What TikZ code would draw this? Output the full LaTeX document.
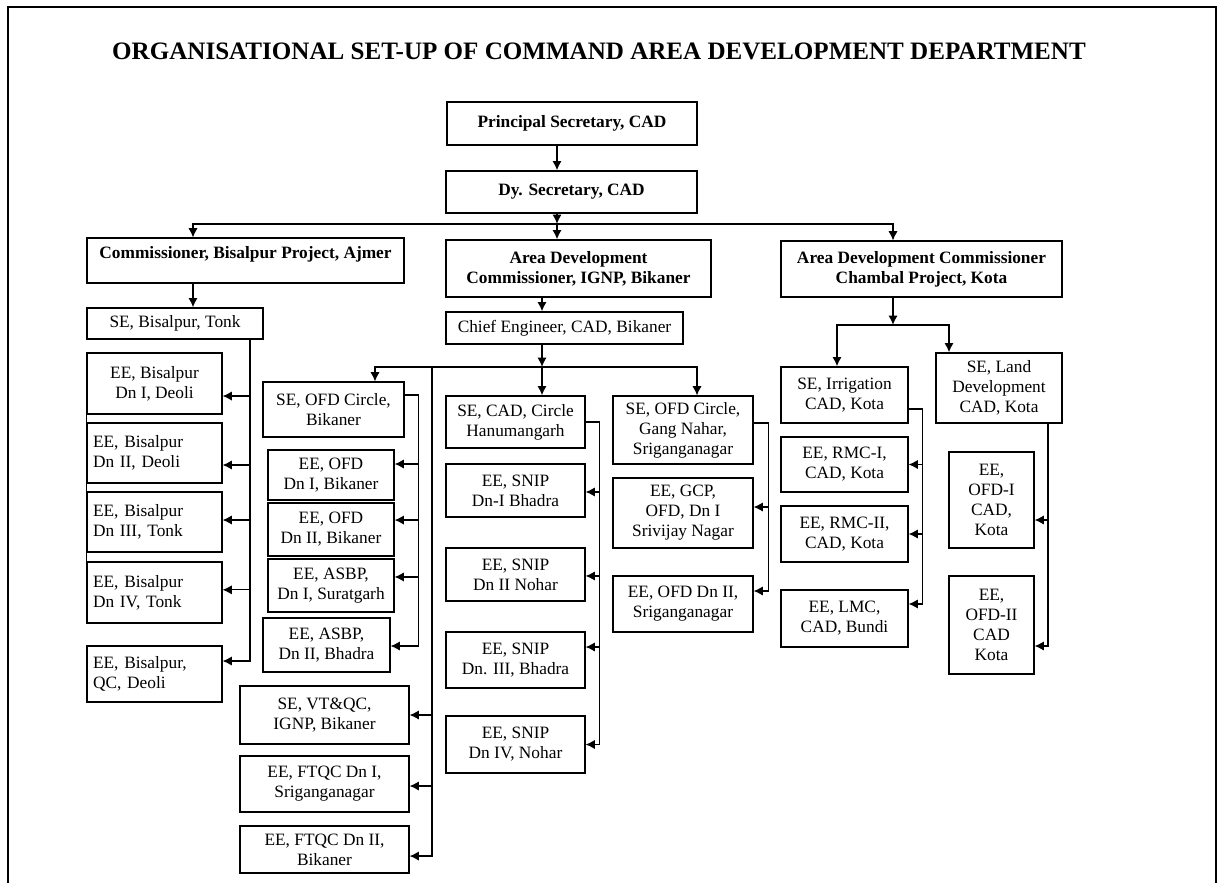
\documentclass[tikz,border=0pt]{standalone}
\usepackage{fontspec}
\setmainfont{Liberation Serif}
\usetikzlibrary{arrows.meta}

\begin{document}
\begin{tikzpicture}[x=0.75pt, y=-0.75pt, >={Latex[length=7pt,width=7pt]},
  box/.style={draw, line width=0.9pt, align=center, inner sep=2pt, font=\fontsize{13}{15}\selectfont},
  head/.style={box, font=\fontsize{13}{15}\selectfont\bfseries},
  lbox/.style={box, align=left, inner xsep=4.5pt, text width=92.25pt},
  link/.style={line width=0.9pt},
  mainline/.style={line width=2.2pt}]
  \useasboundingbox (0,0) rectangle (1219,883);
  \draw [line width=2.2pt] (8,883) -- (8,7) -- (1216,7) -- (1216,883);
  \node [font=\fontsize{18.8}{22}\selectfont\bfseries] (title) at (599,51) {ORGANISATIONAL SET-UP OF COMMAND AREA DEVELOPMENT DEPARTMENT};

  % top of the department
  \node [head, minimum width=187.5pt, minimum height=32.25pt] (psec) at (572,123.5) {Principal Secretary, CAD};
  \node [head, minimum width=188.25pt, minimum height=31.5pt] (dysec) at (571.5,192) {Dy. Secretary, CAD};
  \node [head, minimum width=237.75pt, minimum height=33.75pt, inner ysep=0pt, text height=15pt, text depth=18.75pt] (cbis) at (245.5,260.5) {Commissioner, Bisalpur Project, Ajmer};
  \node [head, minimum width=198.75pt, minimum height=42.75pt] (adcign) at (578.5,268.5) {Area Development\\Commissioner, IGNP, Bikaner};
  \node [head, minimum width=210.75pt, minimum height=42pt] (adckota) at (921.5,269) {Area Development Commissioner\\Chambal Project, Kota};

  % Bisalpur
  \node [box, minimum width=132pt, minimum height=23.25pt] (sebis) at (175,323.5) {SE, Bisalpur, Tonk};
  \node [box, minimum width=101.25pt, minimum height=45.75pt] (ee1) at (154.5,383.5) {EE, Bisalpur\\Dn I, Deoli};
  \node [lbox, minimum height=45pt] (ee2) at (154.5,453) {EE, Bisalpur\\Dn II, Deoli};
  \node [lbox, minimum height=45pt] (ee3) at (154.5,522) {EE, Bisalpur\\Dn III, Tonk};
  \node [lbox, minimum height=45.75pt] (ee4) at (154.5,592.5) {EE, Bisalpur\\Dn IV, Tonk};
  \node [lbox, minimum height=42pt] (eeqc) at (154.5,674) {EE, Bisalpur,\\QC, Deoli};

  % IGNP
  \node [box, minimum width=177.75pt, minimum height=24pt] (cebik) at (564.5,328) {Chief Engineer, CAD, Bikaner};
  \node [box, minimum width=105.75pt, minimum height=41.25pt] (seofdb) at (333.5,409.5) {SE, OFD Circle,\\Bikaner};
  \node [box, minimum width=94.5pt, minimum height=37.5pt] (eeofd1) at (331,475) {EE, OFD\\Dn I, Bikaner};
  \node [box, minimum width=94.5pt, minimum height=39.75pt] (eeofd2) at (331,529.5) {EE, OFD\\Dn II, Bikaner};
  \node [box, minimum width=94.5pt, minimum height=39.75pt] (eeasbp1) at (331,585.5) {EE, ASBP,\\Dn I, Suratgarh};
  \node [box, minimum width=95.25pt, minimum height=40.5pt] (eeasbp2) at (326.5,645) {EE, ASBP,\\Dn II, Bhadra};
  \node [box, minimum width=126.75pt, minimum height=43.5pt] (sevtqc) at (324.5,715) {SE, VT\&QC,\\IGNP, Bikaner};
  \node [box, minimum width=126.75pt, minimum height=42pt] (eeftqc1) at (324.5,784) {EE, FTQC Dn I,\\Sriganganagar};
  \node [box, minimum width=126.75pt, minimum height=35.25pt] (eeftqc2) at (324.5,849.5) {EE, FTQC Dn II,\\Bikaner};
  \node [box, minimum width=104.25pt, minimum height=39pt] (secad) at (515.5,422) {SE, CAD, Circle\\Hanumangarh};
  \node [box, minimum width=104.25pt, minimum height=39.75pt] (snip1) at (515.5,490.5) {EE, SNIP\\Dn-I Bhadra};
  \node [box, minimum width=104.25pt, minimum height=39.75pt] (snip2) at (515.5,574.5) {EE, SNIP\\Dn II Nohar};
  \node [box, minimum width=104.25pt, minimum height=42pt] (snip3) at (515.5,660) {EE, SNIP\\Dn. III, Bhadra};
  \node [box, minimum width=104.25pt, minimum height=42.75pt] (snip4) at (515.5,744.5) {EE, SNIP\\Dn IV, Nohar};
  \node [box, minimum width=105pt, minimum height=51pt] (seofdg) at (683,430) {SE, OFD Circle,\\Gang Nahar,\\Sriganganagar};
  \node [box, minimum width=105pt, minimum height=52.5pt] (eegcp) at (683,513) {EE, GCP,\\OFD, Dn I\\Srivijay Nagar};
  \node [box, minimum width=105pt, minimum height=42pt] (eeofdsg) at (683,604) {EE, OFD Dn II,\\Sriganganagar};

  % Chambal
  \node [box, minimum width=95.25pt, minimum height=42pt] (seirr) at (844.5,395) {SE, Irrigation\\CAD, Kota};
  \node [box, minimum width=94.5pt, minimum height=52.5pt] (seland) at (999,388) {SE, Land\\Development\\CAD, Kota};
  \node [box, minimum width=95.25pt, minimum height=41.25pt] (rmc1) at (844.5,464.5) {EE, RMC-I,\\CAD, Kota};
  \node [box, minimum width=95.25pt, minimum height=42pt] (rmc2) at (844.5,534) {EE, RMC-II,\\CAD, Kota};
  \node [box, minimum width=95.25pt, minimum height=42.75pt] (lmc) at (844.5,618.5) {EE, LMC,\\CAD, Bundi};
  \node [box, minimum width=63.75pt, minimum height=72pt] (ofd1k) at (991.5,500) {EE,\\OFD-I\\CAD,\\Kota};
  \node [box, minimum width=63.75pt, minimum height=73.5pt] (ofd2k) at (991.5,625) {EE,\\OFD-II\\CAD\\Kota};

  % main lines
  \coordinate (trunkA) at (557,224);
  \coordinate (busL) at (193,224);
  \coordinate (busR) at (893,224);
  \draw [mainline, ->] (psec.south -| trunkA) -- (dysec.north -| trunkA);
  \draw [mainline, ->] (dysec.south -| trunkA) -- (trunkA);
  \draw [mainline, ->] (trunkA) -- (adcign.north -| trunkA);
  \draw [link, <->] (cbis.north -| busL) -- (busL) -- (busR) -- (adckota.north -| busR);
  \draw [mainline, ->] (cbis.south -| busL) -- (sebis.north -| busL);

  \coordinate (trunkB) at (542,367);
  \coordinate (busML) at (375,367);
  \coordinate (busMR) at (697,367);
  \draw [mainline, ->] (adcign.south -| trunkB) -- (cebik.north -| trunkB);
  \draw [mainline, ->] (cebik.south -| trunkB) -- (trunkB);
  \draw [mainline, ->] (trunkB) -- (secad.north -| trunkB);
  \draw [link, <->] (seofdb.north -| busML) -- (busML) -- (busMR) -- (seofdg.north -| busMR);

  \coordinate (trunkK) at (893,325);
  \coordinate (busKL) at (837,325);
  \coordinate (busKR) at (949,325);
  \draw [mainline, ->] (adckota.south -| trunkK) -- (trunkK);
  \draw [mainline, <->] (seirr.north -| busKL) -- (busKL) -- (busKR) -- (seland.north -| busKR);

  % branches
  \coordinate (spA) at (250,0);
  \draw [link, ->] (sebis.south -| spA) |- ([yshift=9.75pt]eeqc.east);
  \draw [link, <-] ([yshift=-9.4pt]ee1.east) -- ++(28,0);
  \draw [link, <-] ([yshift=-9pt]ee2.east) -- ++(28,0);
  \draw [link, <-] ([yshift=1.5pt]ee3.east) -- ++(28,0);
  \draw [link, <-] ([yshift=2pt]ee4.east) -- ++(28,0);
  \draw [link] (ee1.north west) -- (ee4.south west);

  \draw [link, ->] ([yshift=10.9pt]seofdb.east) -- ++(14,0) |- ([yshift=-0.75pt]eeasbp2.east);
  \draw [link, <-] ([yshift=8.25pt]eeofd1.east) -- ++(24,0);
  \draw [link, <-] ([yshift=7.1pt]eeofd2.east) -- ++(24,0);
  \draw [link, <-] ([yshift=6.4pt]eeasbp1.east) -- ++(24,0);

  \coordinate (spQ) at (432,367);
  \draw [link, ->] (spQ) |- ([yshift=-4.9pt]eeftqc2.east);
  \draw [link, <-] (sevtqc.east) -- ++(23,0);
  \draw [link, <-] ([yshift=-1.5pt]eeftqc1.east) -- ++(23,0);

  \draw [link, ->] (secad.east) -- ++(14,0) |- (snip4.east);
  \draw [link, <-] ([yshift=-1.1pt]snip1.east) -- ++(14,0);
  \draw [link, <-] ([yshift=-1.1pt]snip2.east) -- ++(14,0);
  \draw [link, <-] ([yshift=9.75pt]snip3.east) -- ++(14,0);

  \draw [link, ->] ([yshift=5.25pt]seofdg.east) -- ++(15,0) |- ([yshift=9.75pt]eeofdsg.east);
  \draw [link, <-] ([yshift=4.5pt]eegcp.east) -- ++(15,0);

  \draw [link, ->] ([yshift=-10.5pt]seirr.east) -- ++(14,0) |- ([yshift=10.9pt]lmc.east);
  \draw [link, <-] (rmc1.east) -- ++(14,0);
  \draw [link, <-] (rmc2.east) -- ++(14,0);

  \draw [link, ->] ([xshift=36.75pt]seland.south) |- ([yshift=-15.75pt]ofd2k.east);
  \draw [link, <-] ([yshift=-15pt]ofd1k.east) -- ++(14,0);
\end{tikzpicture}
\end{document}
